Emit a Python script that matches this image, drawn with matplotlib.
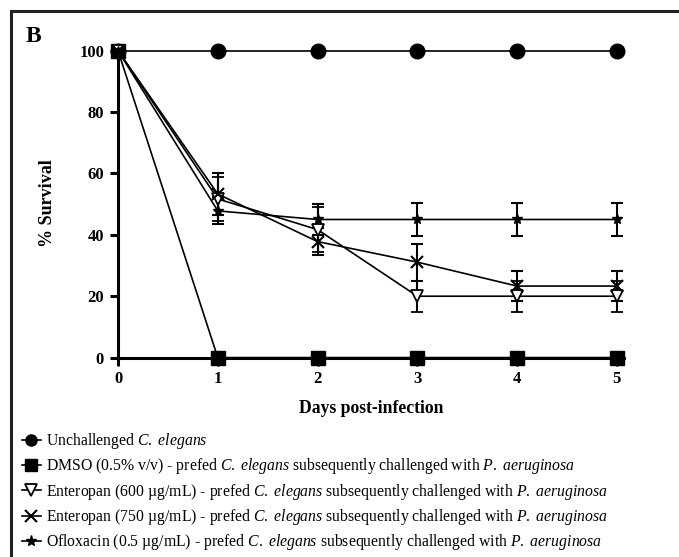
import matplotlib
matplotlib.use("Agg")
import matplotlib.pyplot as plt
from matplotlib.lines import Line2D
from matplotlib.patches import Rectangle

plt.rcParams['font.family'] = ['Liberation Serif', 'DejaVu Serif']
plt.rcParams['mathtext.fontset'] = 'custom'
plt.rcParams['mathtext.rm'] = 'Liberation Serif'
plt.rcParams['mathtext.it'] = 'Liberation Serif:italic'

# Data
days = [0, 1, 2, 3, 4, 5]
unchallenged = [100, 100, 100, 100, 100, 100]
dmso = [100, 0, 0, 0, 0, 0]
ent600 = [100, 51.7, 41.7, 20, 20, 20]
ent600_err = [0, 7.3, 7.3, 5, 5, 5]
ent750 = [100, 53.3, 37.8, 31.1, 23.3, 23.3]
ent750_err = [0, 7, 4.4, 6, 5, 5]
oflox = [100, 47.8, 45, 45, 45, 45]
oflox_err = [0, 4.4, 5, 5.5, 5.5, 5.5]

labels = [
    r"Unchallenged $\mathit{C.\ elegans}$",
    r"DMSO (0.5% v/v) - prefed $\mathit{C.\ elegans}$ subsequently challenged with $\mathit{P.\ aeruginosa}$",
    r"Enteropan (600 µg/mL) - prefed $\mathit{C.\ elegans}$ subsequently challenged with $\mathit{P.\ aeruginosa}$",
    r"Enteropan (750 µg/mL) - prefed $\mathit{C.\ elegans}$ subsequently challenged with $\mathit{P.\ aeruginosa}$",
    r"Ofloxacin (0.5 µg/mL) - prefed $\mathit{C.\ elegans}$ subsequently challenged with $\mathit{P.\ aeruginosa}$",
]

fig = plt.figure(figsize=(6.79, 5.57), dpi=100)
ax = fig.add_axes([0.1738, 0.358, 0.745, 0.551])

lw = 1.2
eb = dict(color='black', lw=lw, capsize=4.5, capthick=1.5, elinewidth=1.5, clip_on=False)
ax.plot(days, unchallenged, color='black', lw=lw, marker='o', ms=10.5, clip_on=False, zorder=3)
ax.plot(days, dmso, color='black', lw=lw, marker='s', ms=9.5, clip_on=False, zorder=3)
ax.errorbar(days, ent600, yerr=ent600_err, marker='v', ms=9, mfc='white', mec='black', mew=1.3, zorder=4, **eb)
ax.errorbar(days, ent750, yerr=ent750_err, marker='x', ms=9, mew=1.5, zorder=4, **eb)
ax.errorbar(days, oflox, yerr=oflox_err, marker='*', ms=7, zorder=4, **eb)

ax.set_xlim(0, 5.07)
ax.set_ylim(0, 100)
ax.set_xticks(days)
ax.set_yticks([0, 20, 40, 60, 80, 100])
for s in ['top', 'right']:
    ax.spines[s].set_visible(False)
for s in ['left', 'bottom']:
    ax.spines[s].set_linewidth(2.2)
ax.tick_params(direction='out', length=6, width=2.2, labelsize=12, pad=4)
for t in ax.get_xticklabels() + ax.get_yticklabels():
    t.set_fontweight('bold')

ax.set_xlabel("Days post-infection", fontsize=12.7, fontweight='bold', labelpad=9)
fig.text(48 / 679, 1 - 203 / 557, "% Survival", rotation=90, fontsize=13,
         fontweight='bold', ha='center', va='center')
fig.text(26 / 679, 1 - 36 / 557, "B", fontsize=17, fontweight='bold', ha='left', va='center')

handles = [
    Line2D([], [], color='black', lw=lw, marker='o', ms=8),
    Line2D([], [], color='black', lw=lw, marker='s', ms=8),
    Line2D([], [], color='black', lw=lw, marker='v', ms=8, mfc='white', mew=1.3),
    Line2D([], [], color='black', lw=lw, marker='x', ms=8, mew=1.5),
    Line2D([], [], color='black', lw=lw, marker='*', ms=8),
]
fig.legend(handles, labels, loc='upper left', bbox_to_anchor=(22 / 679, 1 - 431 / 557),
           frameon=False, fontsize=11.3, handlelength=1.2, handletextpad=0.3,
           labelspacing=0.34, borderaxespad=0, borderpad=0)

fig.add_artist(Rectangle((11 / 679, -0.1), 1.2, 1.1 - 11 / 557, transform=fig.transFigure,
                         fill=False, lw=2.2, ec='#222222'))

fig.savefig("out.png", dpi=100)
